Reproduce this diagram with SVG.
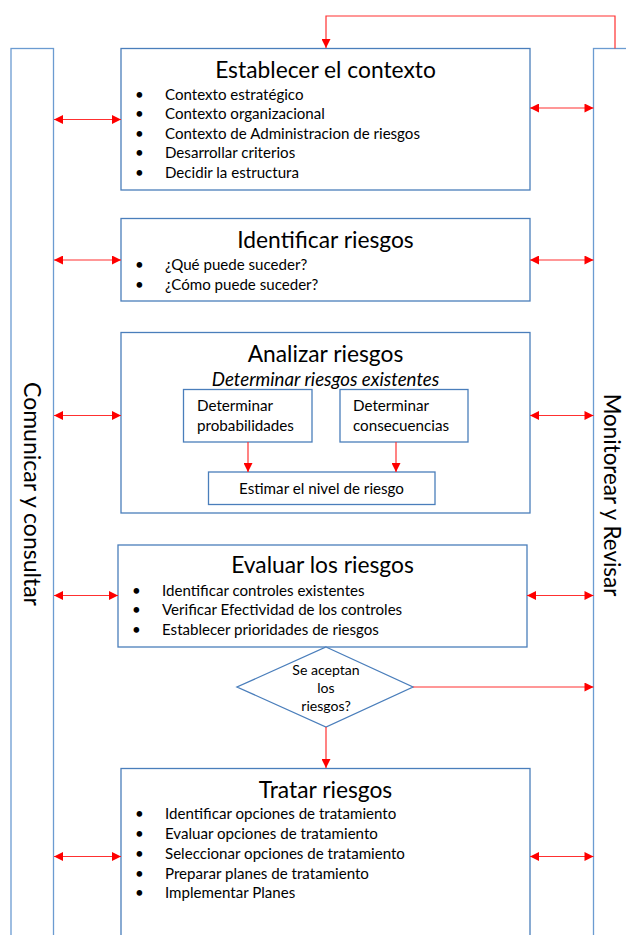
<svg xmlns="http://www.w3.org/2000/svg" width="626" height="935" viewBox="0 0 626 935">
  <style>
    .box { fill: #ffffff; stroke: #4a7ebb; stroke-width: 1.3; }
    .bar { fill: #ffffff; stroke: #6b9bd1; stroke-width: 1.3; }
    .title { font-family: Lato, "Liberation Sans", sans-serif; font-size: 22.8px; fill: #000; text-anchor: middle; }
    .item { font-family: Lato, "Liberation Sans", sans-serif; font-size: 15.1px; fill: #000; }
    .sub { font-family: Lato, "Liberation Sans", sans-serif; font-size: 15.2px; fill: #000; }
    .lead { font-family: Lato, "Liberation Sans", sans-serif; font-size: 18.7px; font-style: italic; fill: #000; text-anchor: middle; }
    .ask { font-family: Lato, "Liberation Sans", sans-serif; font-size: 14.1px; fill: #000; text-anchor: middle; }
    .side { font-family: Lato, "Liberation Sans", sans-serif; font-size: 23px; fill: #000; text-anchor: middle; }
    .link { fill: none; stroke: #ff3030; stroke-width: 1.2; }
  </style>
  <defs>
    <marker id="head" viewBox="0 0 10 10" refX="10" refY="5" markerWidth="10" markerHeight="9" markerUnits="userSpaceOnUse" orient="auto-start-reverse">
      <path d="M0,0 L10,5 L0,10 z" fill="#ff0000"/>
    </marker>
  </defs>

  <rect width="626" height="935" fill="#ffffff"/>

  <!-- side bars -->
  <g id="comunicar">
    <rect class="bar" x="11" y="48.5" width="42.5" height="900"/>
    <text class="side" transform="translate(24,494) rotate(90)">Comunicar y consultar</text>
  </g>
  <g id="monitorear">
    <rect class="bar" x="593.5" y="48.5" width="60" height="900"/>
    <text class="side" style="font-size:22.4px" transform="translate(604,495) rotate(90)">Monitorear y Revisar</text>
  </g>

  <!-- steps -->
  <g id="establecer">
    <rect class="box" x="121" y="48.5" width="409" height="141.5"/>
    <text class="title" x="325.5" y="77.5">Establecer el contexto</text>
    <g class="item">
      <text x="135" y="99.5">•</text><text x="165" y="99.5">Contexto estratégico</text>
      <text x="135" y="119">•</text><text x="165" y="119">Contexto organizacional</text>
      <text x="135" y="138.5">•</text><text x="165" y="138.5">Contexto de Administracion de riesgos</text>
      <text x="135" y="158">•</text><text x="165" y="158">Desarrollar criterios</text>
      <text x="135" y="177.5">•</text><text x="165" y="177.5">Decidir la estructura</text>
    </g>
  </g>

  <g id="identificar">
    <rect class="box" x="121" y="218.5" width="409" height="82.5"/>
    <text class="title" x="325.5" y="248">Identificar riesgos</text>
    <g class="item">
      <text x="135" y="270">•</text><text x="165" y="270">¿Qué puede suceder?</text>
      <text x="135" y="290">•</text><text x="165" y="290">¿Cómo puede suceder?</text>
    </g>
  </g>

  <g id="analizar">
    <rect class="box" x="121" y="332.5" width="409" height="180.5"/>
    <text class="title" x="325.5" y="362">Analizar riesgos</text>
    <text class="lead" x="325.5" y="385.5">Determinar riesgos existentes</text>
  </g>
  <g id="probabilidades">
    <rect class="box" x="183.5" y="389.5" width="128.5" height="52.5"/>
    <text class="sub" x="197" y="411">Determinar</text>
    <text class="sub" x="197" y="431">probabilidades</text>
  </g>
  <g id="consecuencias">
    <rect class="box" x="340" y="389.5" width="128" height="52.5"/>
    <text class="sub" x="353" y="411">Determinar</text>
    <text class="sub" x="353" y="431">consecuencias</text>
  </g>
  <g id="estimar">
    <rect class="box" x="208.5" y="472" width="226.5" height="32.5"/>
    <text class="sub" x="321.5" y="494" text-anchor="middle">Estimar el nivel de riesgo</text>
  </g>

  <g id="evaluar">
    <rect class="box" x="118" y="545" width="409" height="102"/>
    <text class="title" x="322.5" y="573">Evaluar los riesgos</text>
    <g class="item">
      <text x="132" y="596">•</text><text x="162" y="596">Identificar controles existentes</text>
      <text x="132" y="615">•</text><text x="162" y="615">Verificar Efectividad de los controles</text>
      <text x="132" y="634.5">•</text><text x="162" y="634.5">Establecer prioridades de riesgos</text>
    </g>
  </g>

  <g id="aceptan">
    <polygon class="box" points="326,647 413,687 326,727 237,687"/>
    <text class="ask" x="326" y="675">Se aceptan</text>
    <text class="ask" x="326" y="693">los</text>
    <text class="ask" x="326" y="710.5">riesgos?</text>
  </g>

  <g id="tratar">
    <rect class="box" x="121" y="768.5" width="409" height="180"/>
    <text class="title" x="325.5" y="798">Tratar riesgos</text>
    <g class="item">
      <text x="135" y="819">•</text><text x="165" y="819">Identificar opciones de tratamiento</text>
      <text x="135" y="839">•</text><text x="165" y="839">Evaluar opciones de tratamiento</text>
      <text x="135" y="859">•</text><text x="165" y="859">Seleccionar opciones de tratamiento</text>
      <text x="135" y="878.5">•</text><text x="165" y="878.5">Preparar planes de tratamiento</text>
      <text x="135" y="898">•</text><text x="165" y="898">Implementar Planes</text>
    </g>
  </g>

  <!-- connectors -->
  <g id="connectors">
    <!-- feedback from review back to context -->
    <path class="link" d="M615,48.5 V16 H326 V48" marker-end="url(#head)"/>

    <!-- communication links (left) -->
    <path class="link" d="M54,119.5 H121" marker-start="url(#head)" marker-end="url(#head)"/>
    <path class="link" d="M54,260 H121" marker-start="url(#head)" marker-end="url(#head)"/>
    <path class="link" d="M54,415.5 H121" marker-start="url(#head)" marker-end="url(#head)"/>
    <path class="link" d="M54,595.5 H118" marker-start="url(#head)" marker-end="url(#head)"/>
    <path class="link" d="M54,856.5 H121" marker-start="url(#head)" marker-end="url(#head)"/>

    <!-- review links (right) -->
    <path class="link" d="M530,108 H593.5" marker-start="url(#head)" marker-end="url(#head)"/>
    <path class="link" d="M530,260 H593.5" marker-start="url(#head)" marker-end="url(#head)"/>
    <path class="link" d="M530,415.5 H593.5" marker-start="url(#head)" marker-end="url(#head)"/>
    <path class="link" d="M527,595.5 H593.5" marker-start="url(#head)" marker-end="url(#head)"/>
    <path class="link" d="M530,856.5 H593.5" marker-start="url(#head)" marker-end="url(#head)"/>

    <!-- analysis flow -->
    <path class="link" d="M248,442 V472" marker-end="url(#head)"/>
    <path class="link" d="M396,442 V472" marker-end="url(#head)"/>

    <!-- decision -->
    <path class="link" d="M413,687 H593.5" marker-end="url(#head)"/>
    <path class="link" d="M326,727 V768" marker-end="url(#head)"/>
  </g>
</svg>
